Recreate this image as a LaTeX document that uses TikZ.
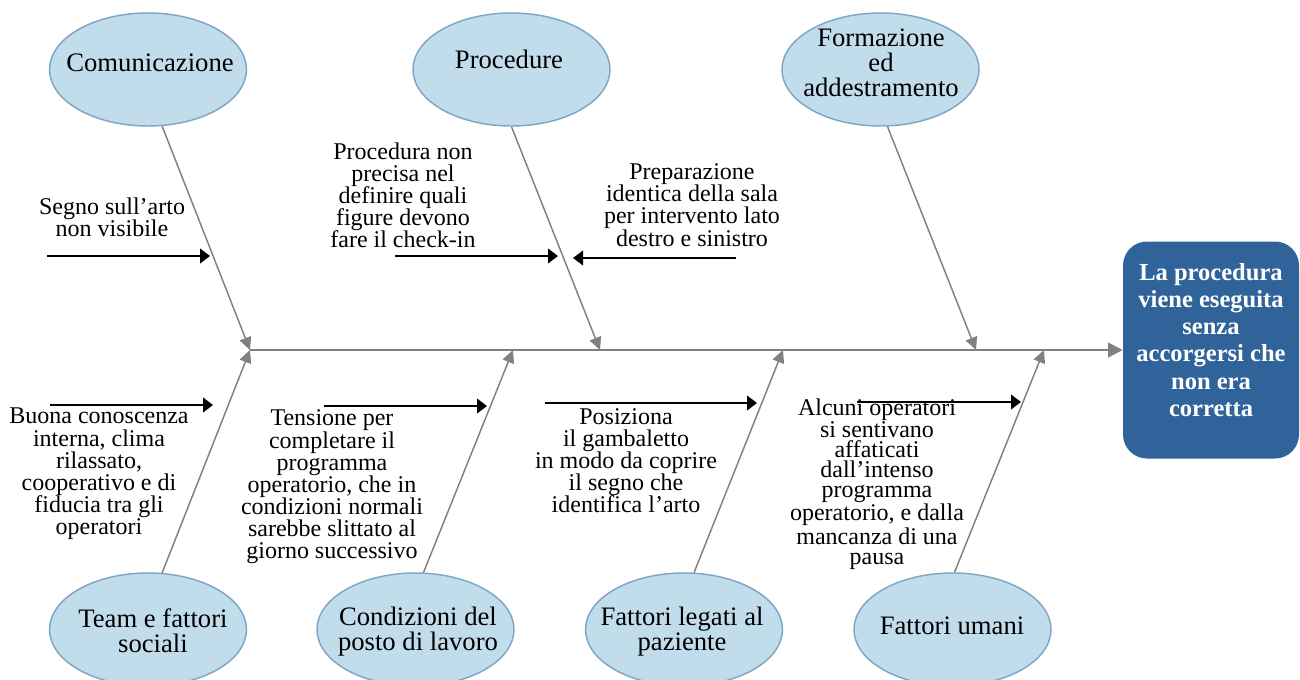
\documentclass[tikz,border=0pt]{standalone}
\usepackage{fontspec}
\setmainfont{Liberation Serif}
\usetikzlibrary{shapes.geometric,arrows.meta}
\definecolor{boneGray}{HTML}{808080}
\definecolor{catFill}{HTML}{C1DDEB}
\definecolor{catLine}{HTML}{7FA6C6}
\definecolor{effFill}{HTML}{31639B}

\begin{document}
\begin{tikzpicture}[x=0.75pt,y=-0.75pt,
  cat/.style={ellipse,draw=catLine,fill=catFill,line width=1.1pt,
    minimum width=147.75pt,minimum height=84.75pt,inner sep=0pt},
  catlabel/.style={align=center,inner sep=0pt,font=\fontsize{20}{18.75}\selectfont},
  cause/.style={align=center,inner sep=0pt,font=\fontsize{18}{16.6}\selectfont},
  bone/.style={draw=boneGray,line width=1.1pt,-{Triangle[length=9.5pt,width=9pt]}},
  spine/.style={draw=boneGray,line width=1.5pt,-{Triangle[length=11pt,width=11pt]}},
  hint/.style={draw=black,line width=1.5pt,-{Triangle[length=7.5pt,width=11pt]}},
]
\useasboundingbox (0,0) rectangle (1300,679);

% effect box
\node[rectangle,rounded corners=18pt,fill=effFill,minimum width=132pt,
  minimum height=162.75pt,inner sep=0pt] (eff) at (1211,350) {};
\node[align=center,inner sep=0pt,text=white,
  font=\fontsize{18.4}{20.4}\selectfont\bfseries] (eff-l) at (1211,340)
  {La procedura\\viene eseguita\\senza\\accorgersi che\\non era\\corretta};

% main spine
\coordinate (head) at (250,350);
\draw[spine] (head) -- (head -| eff.west);

% spine junctions
\coordinate (j1) at (250,350);
\coordinate (j2) at (600,350);
\coordinate (j3) at (976,350);
\coordinate (k1) at (250,350);
\coordinate (k2) at (513,350);
\coordinate (k3) at (783,350);
\coordinate (k4) at (1044,350);

% upper categories
\node[cat] (com) at (148,69.5) {};
\node[catlabel] (com-l) at (150,63) {Comunicazione};
\node[cat] (proc) at (511.5,69.5) {};
\node[catlabel] (proc-l) at (509,59) {Procedure};
\node[cat] (form) at (880.5,69.5) {};
\node[catlabel] (form-l) at (881,63) {Formazione\\ed\\addestramento};

% lower categories
\node[cat] (team) at (148,629.5) {};
\node[catlabel] (team-l) at (153,631) {Team e fattori\\sociali};
\node[cat] (cond) at (415.5,629.5) {};
\node[catlabel] (cond-l) at (418,631.5) {Condizioni del\\posto di lavoro};
\node[cat] (paz) at (684,629.5) {};
\node[catlabel] (paz-l) at (682,631.5) {Fattori legati al\\paziente};
\node[cat] (uma) at (952.5,629.5) {};
\node[catlabel] (uma-l) at (952,626) {Fattori umani};

% bones
\draw[bone] (com.-76) -- (j1);
\draw[bone] (proc.-90) -- (j2);
\draw[bone] (form.-83.4) -- (j3);
\draw[bone] (team.76) -- (k1);
\draw[bone] (cond.82.4) -- (k2);
\draw[bone] (paz.80.9) -- (k3);
\draw[bone] (uma.88.5) -- (k4);

% causes
\node[cause] (c1) at (112,217) {Segno sull'arto\\non visibile};
\node[cause] (c2) at (403,195.5) {Procedura non\\precisa nel\\definire quali\\figure devono\\fare il check-in};
\node[cause] (c3) at (692,205) {Preparazione\\identica della sala\\per intervento lato\\destro e sinistro};
\node[cause] (c4) at (99,474) {Buona conoscenza\\interna, clima\\rilassato,\\cooperativo e di\\fiducia tra gli\\operatori};
\node[cause] (c5) at (332,487) {Tensione per\\completare il\\programma\\operatorio, che in\\condizioni normali\\sarebbe slittato al\\giorno successivo};
\node[cause] (c6) at (626,460.5) {Posiziona\\il gambaletto\\in modo da coprire\\il segno che\\identifica l'arto};
\node[cause,font=\fontsize{18}{15}\selectfont] (c7) at (877,484) {Alcuni operatori\\si sentivano\\affaticati\\dall'intenso\\programma\\operatorio, e dalla\\mancanza di una\\pausa};

% cause arrows
\coordinate (a1s) at (47,256);   \coordinate (a1e) at (210,256);
\coordinate (a2s) at (395,256);  \coordinate (a2e) at (558,256);
\coordinate (a3s) at (736,258);  \coordinate (a3e) at (573,258);
\coordinate (a4s) at (50,405);   \coordinate (a4e) at (213,405);
\coordinate (a5s) at (324,406);  \coordinate (a5e) at (487,406);
\coordinate (a6s) at (545,403);  \coordinate (a6e) at (757,403);
\coordinate (a7s) at (857,402);  \coordinate (a7e) at (1021,402);
\draw[hint] (a1s) -- (a1e);
\draw[hint] (a2s) -- (a2e);
\draw[hint] (a3s) -- (a3e);
\draw[hint] (a4s) -- (a4e);
\draw[hint] (a5s) -- (a5e);
\draw[hint] (a6s) -- (a6e);
\draw[hint] (a7s) -- (a7e);
\end{tikzpicture}
\end{document}
